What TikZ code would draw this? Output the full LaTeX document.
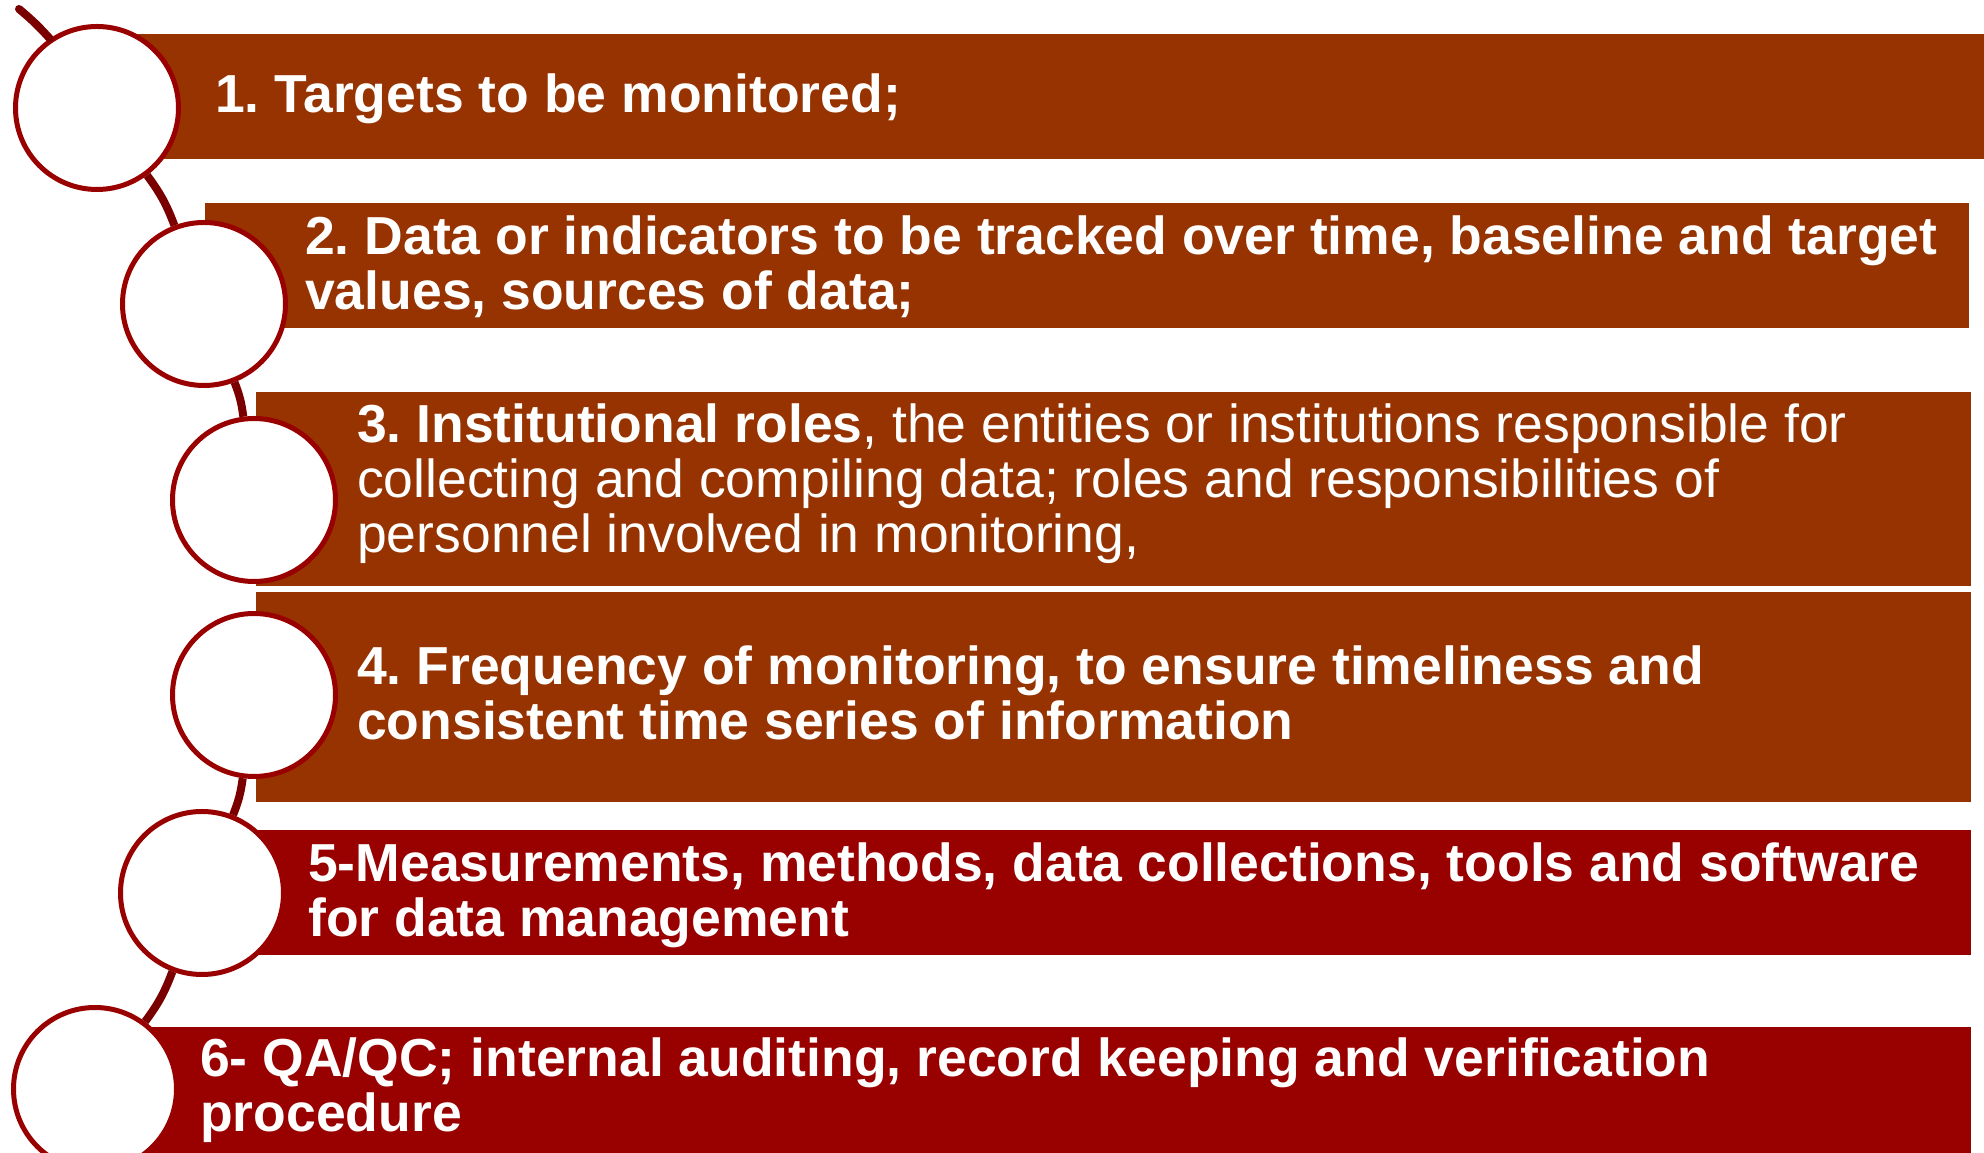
\documentclass[tikz,border=0pt]{standalone}
\usepackage{fontspec}
\setmainfont{Liberation Sans}
\definecolor{barbrown}{RGB}{150,51,0}
\definecolor{barred}{RGB}{153,0,0}
\definecolor{ringred}{RGB}{153,0,0}
\definecolor{linkred}{RGB}{122,0,0}
\newcommand{\itemtext}[1]{\parbox[t]{1680pt}{\raggedright\frenchspacing\fontsize{53.5}{55}\selectfont #1}}
\begin{document}
\begin{tikzpicture}[x=1pt,y=1pt,
    bar/.style={rectangle,anchor=south west,inner sep=0pt,outer sep=0pt},
    ring/.style={circle,draw=ringred,line width=5pt,fill=white,minimum size=163pt,inner sep=0pt},
    link/.style={draw=linkred,line width=8pt},
    itemlabel/.style={anchor=base west,inner sep=0pt,text=white}]
        \useasboundingbox (0,0) rectangle (1984,1153);

        % bars
        \node [bar,fill=barbrown,minimum width=1887pt,minimum height=125pt] (bar1) at (97,994) {};
        \node [bar,fill=barbrown,minimum width=1764pt,minimum height=125pt] (bar2) at (205,825) {};
        \node [bar,fill=barbrown,minimum width=1715pt,minimum height=194pt] (bar3) at (256,567) {};
        \node [bar,fill=barbrown,minimum width=1715pt,minimum height=210pt] (bar4) at (256,351) {};
        \node [bar,fill=barred,minimum width=1766pt,minimum height=125pt] (bar5) at (205,198) {};
        \node [bar,fill=barred,minimum width=1874pt,minimum height=126pt] (bar6) at (97,0) {};

        % rings
        \node [ring] (c1) at (97,1045) {};
        \node [ring] (c2) at (204,849) {};
        \node [ring] (c3) at (254,653) {};
        \node [ring] (c4) at (254,458) {};
        \node [ring] (c5) at (202,260) {};
        \node [ring] (c6) at (95,64) {};
        \coordinate (lead) at (19,1144);

        \draw [link,line cap=round] (lead) to [bend left=4] (c1);
        \draw [link] (c1) to [bend left=8] (c2);
        \draw [link] (c2) to [bend left=7] (c3);
        \draw [link] (c4) to [bend left=7] (c5);
        \draw [link] (c5) to [bend left=8] (c6);

        % texts
        \node [itemlabel] (t1) at (215,1040) {\itemtext{\bfseries 1. Targets to be monitored;}};
        \node [itemlabel] (t2) at (305,898) {\itemtext{\bfseries 2. Data or indicators to be tracked over time, baseline and target\\ values, sources of data;}};
        \node [itemlabel] (t3) at (357,710) {\itemtext{\textbf{3. Institutional roles}, the entities or institutions responsible for\\ collecting and compiling data; roles and responsibilities of\\ personnel involved in monitoring,}};
        \node [itemlabel] (t4) at (357,468) {\itemtext{\bfseries 4. Frequency of monitoring, to ensure timeliness and\\ consistent time series of information}};
        \node [itemlabel] (t5) at (308,271) {\itemtext{\bfseries 5-Measurements, methods, data collections, tools and software\\ for data management}};
        \node [itemlabel] (t6) at (200,76) {\itemtext{\bfseries 6- QA/QC; internal auditing, record keeping and verification\\ procedure}};
\end{tikzpicture}
\end{document}
